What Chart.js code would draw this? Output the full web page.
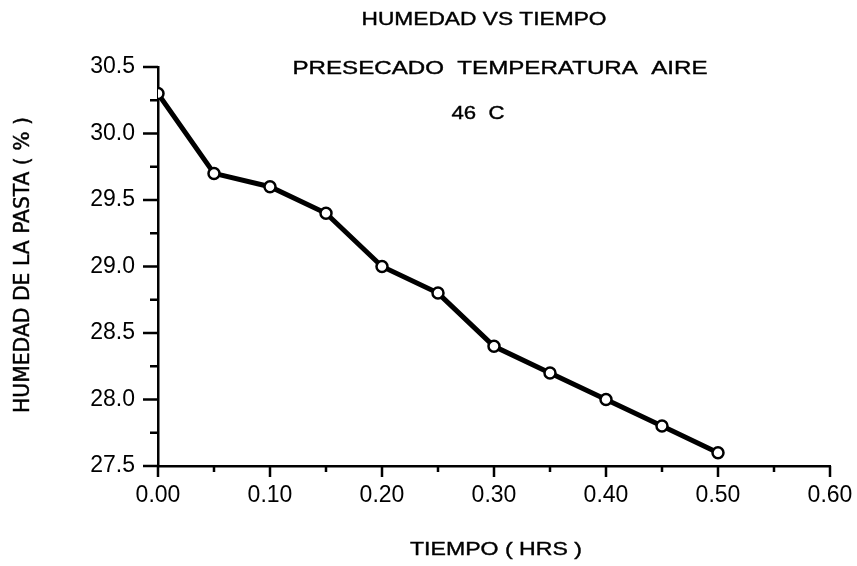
<!DOCTYPE html>
<html>
<head>
<meta charset="utf-8">
<script src="https://cdn.jsdelivr.net/npm/chart.js@4.4.0/dist/chart.umd.min.js"></script>
<style>
  html, body { margin: 0; padding: 0; background: #fff; }
  #wrap { width: 857px; height: 566px; }
</style>
</head>
<body>
<div id="wrap"><canvas id="chart"></canvas></div>
<script>
const hours = [0.00, 0.05, 0.10, 0.15, 0.20, 0.25, 0.30, 0.35, 0.40, 0.45, 0.50];
const humidity = [30.3, 29.7, 29.6, 29.4, 29.0, 28.8, 28.4, 28.2, 28.0, 27.8, 27.6];

const xMajor = [0.0, 0.1, 0.2, 0.3, 0.4, 0.5, 0.6];
const xMinor = [0.05, 0.15, 0.25, 0.35, 0.45, 0.55];
const yMajor = [27.5, 28.0, 28.5, 29.0, 29.5, 30.0, 30.5];
const yMinor = [27.75, 28.25, 28.75, 29.25, 29.75, 30.25];

const titleLines = ["HUMEDAD VS TIEMPO", "PRESECADO  TEMPERATURA  AIRE", "46  C"];
const xTitle = "TIEMPO ( HRS )";
const yTitle = "HUMEDAD DE LA PASTA ( % )";

// draws text squeezed/stretched to a given width
function fitText(ctx, text, cx, cy, width, font) {
  ctx.save();
  ctx.font = font;
  const w = ctx.measureText(text).width;
  ctx.translate(cx, cy);
  ctx.scale(width / w, 1);
  ctx.textAlign = "center";
  ctx.textBaseline = "middle";
  ctx.lineWidth = 0.4;
  ctx.strokeStyle = "#000";
  ctx.fillText(text, 0, 0);
  ctx.strokeText(text, 0, 0);
  ctx.restore();
}

const decor = {
  id: "decor",
  afterDraw(chart) {
    const ctx = chart.ctx;
    const x = chart.scales.x, y = chart.scales.y;
    const area = chart.chartArea;
    ctx.save();
    ctx.strokeStyle = "#000";
    ctx.lineWidth = 2.5;
    ctx.beginPath();
    yMajor.forEach(v => { const p = y.getPixelForValue(v); ctx.moveTo(area.left - 15, p); ctx.lineTo(area.left, p); });
    yMinor.forEach(v => { const p = y.getPixelForValue(v); ctx.moveTo(area.left - 8, p); ctx.lineTo(area.left, p); });
    xMajor.forEach(v => { const p = x.getPixelForValue(v); ctx.moveTo(p, area.bottom); ctx.lineTo(p, area.bottom + 11); });
    xMinor.forEach(v => { const p = x.getPixelForValue(v); ctx.moveTo(p, area.bottom); ctx.lineTo(p, area.bottom + 6); });
    ctx.stroke();

    ctx.fillStyle = "#000";
    fitText(ctx, titleLines[0], 484, 20, 245, "19px 'Liberation Sans', Arial");
    fitText(ctx, titleLines[1], 500, 69, 415, "19px 'Liberation Sans', Arial");
    fitText(ctx, titleLines[2], 478, 114, 53, "19px 'Liberation Sans', Arial");
    fitText(ctx, xTitle, 496, 550, 172, "19px 'Liberation Sans', Arial");

    ctx.save();
    ctx.translate(24, 265);
    ctx.rotate(-Math.PI / 2);
    fitText(ctx, yTitle, 0, 0, 296, "21px 'DejaVu Sans Condensed', 'DejaVu Sans'");
    ctx.restore();
    ctx.restore();
  }
};

new Chart(document.getElementById("chart"), {
  type: "line",
  data: {
    datasets: [{
      data: hours.map((h, i) => ({ x: h, y: humidity[i] })),
      borderColor: "#000",
      borderWidth: 5,
      pointRadius: 5.5,
      pointBorderWidth: 2.5,
      pointBackgroundColor: "#fff",
      pointBorderColor: "#000",
      tension: 0
    }]
  },
  options: {
    responsive: true,
    maintainAspectRatio: false,
    animation: false,
    layout: { padding: { left: 0, top: 67, right: 27, bottom: 0 } },
    plugins: { legend: { display: false }, tooltip: { enabled: false } },
    scales: {
      x: {
        type: "linear",
        min: 0,
        max: 0.6,
        afterFit: s => { s.height = 100; s.paddingRight = 0; s.paddingLeft = 0; },
        grid: { display: false, drawTicks: false },
        border: { display: true, color: "#000", width: 2.5 },
        ticks: {
          stepSize: 0.1,
          padding: 16,
          color: "#000",
          maxRotation: 0,
          font: { family: "'Liberation Sans', Arial", size: 23 },
          callback: v => v.toFixed(2)
        }
      },
      y: {
        min: 27.5,
        max: 30.5,
        afterFit: s => { s.width = 158; s.paddingTop = 0; s.paddingBottom = 0; },
        grid: { display: false, drawTicks: false },
        border: { display: true, color: "#000", width: 2.5 },
        ticks: {
          stepSize: 0.5,
          padding: 23,
          color: "#000",
          font: { family: "'Liberation Sans', Arial", size: 23 },
          callback: v => v.toFixed(1)
        }
      }
    }
  },
  plugins: [decor]
});
</script>
</body>
</html>
